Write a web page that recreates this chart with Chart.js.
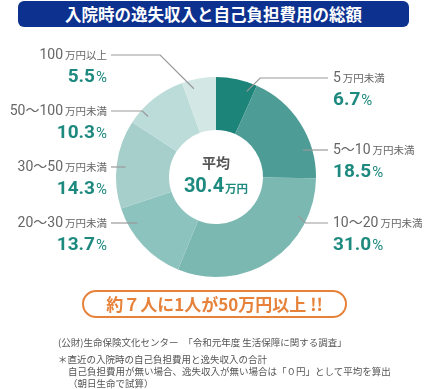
<!DOCTYPE html>
<html lang="ja">
<head>
<meta charset="utf-8">
<script src="https://cdn.jsdelivr.net/npm/chart.js@4.4.1/dist/chart.umd.min.js"></script>
<style>
  body { margin: 0; width: 432px; height: 389px; background: #fff; position: relative; overflow: hidden;
         font-family: "Noto Sans CJK JP", sans-serif; }
  #chart { position: absolute; left: 0; top: 0; }
  .title { position: absolute; left: 18px; top: 1px; width: 391px; height: 26px; background: #0d318f;
           border-radius: 6px; color: #fff; font-weight: bold; font-size: 16.5px; line-height: 26px; text-align: center; }
  .pill { position: absolute; left: 82px; top: 290px; width: 261px; height: 24px; border: 2px solid #e6823a;
          border-radius: 15px; color: #e6823a; font-weight: bold; font-size: 17px; line-height: 24px; text-align: center; }
  .note { position: absolute; left: 58px; top: 336px; font-size: 9.5px; line-height: 12px; color: #555; white-space: nowrap; }
  .note p { margin: 0; }
  .note .first { margin-bottom: 5px; }
  .note .ind { padding-left: 10px; }
</style>
</head>
<body>
<div class="title">入院時の逸失収入と自己負担費用の総額</div>
<canvas id="chart" width="432" height="389"></canvas>
<div class="pill">約７人に1人が50万円以上 !!</div>
<div class="note">
  <p class="first">(公財)生命保険文化センター　「令和元年度 生活保障に関する調査」</p>
  <p>＊直近の入院時の自己負担費用と逸失収入の合計</p>
  <p class="ind">自己負担費用が無い場合、逸失収入が無い場合は「０円」として平均を算出</p>
  <p class="ind">（朝日生命で試算）</p>
</div>
<script>
// データ（時計回り、上から）
const rangeLabels = ['5', '5〜10', '10〜20', '20〜30', '30〜50', '50〜100', '100'];
const rangeUnits = ['万円未満', '万円未満', '万円未満', '万円未満', '万円未満', '万円未満', '万円以上'];
const shares = [6.7, 18.5, 31.0, 13.7, 14.3, 10.3, 5.5];
const averageValue = 30.4;

// 色
const sliceColors = ['#1d8479', '#4d9c95', '#7bb8b2', '#8dc3be', '#a6cfcb', '#bcdcd9', '#d3e7e5'];
const teal = '#1e8a7f';
const grey = '#666';

// ラベル配置（側、線の高さ、スライス内の引き出し位置）
const labelSide = ['R', 'R', 'R', 'L', 'L', 'L', 'L'];
const labelY = [78, 150, 223, 223, 167, 111, 55];
const leaderAt = [0.82, 0.73, 0.22, 0.76, 0.48, 0.23, 0.29];

const numFont = '14px Roboto, "Noto Sans CJK JP"';
const unitFont = '10.5px "Noto Sans CJK JP"';
const pctFont = 'bold 19px Roboto';
const pctSignFont = '15px Roboto';

/**
 * 引き出し線とラベルを描く
 */
const labelPlugin = {
  id: 'sliceLabels',
  afterDraw(chart) {
    const ctx = chart.ctx;
    const arcs = chart.getDatasetMeta(0).data;
    ctx.save();
    ctx.textBaseline = 'middle';

    arcs.forEach(function(arc, i) {
      const left = labelSide[i] === 'L';
      const ly = labelY[i];
      const edgeX = left ? 111 : 328;

      // 引き出し線
      const a = arc.startAngle + leaderAt[i] * (arc.endAngle - arc.startAngle);
      const r = arc.outerRadius - 9;
      const ax = arc.x + r * Math.cos(a);
      const ay = arc.y + r * Math.sin(a);
      const dy = Math.abs(ay - ly);
      ctx.strokeStyle = '#9a9a9a';
      ctx.lineWidth = 1.2;
      ctx.beginPath();
      ctx.moveTo(edgeX, ly);
      if (dy < 3) {
        ctx.lineTo(ax, ly);
      } else {
        const elbowX = left ? ax - dy : ax + dy;
        ctx.lineTo(elbowX, ly);
        ctx.lineTo(ax, ay);
      }
      ctx.stroke();

      // 区分ラベル
      ctx.font = numFont;
      const wNum = ctx.measureText(rangeLabels[i]).width;
      ctx.font = unitFont;
      const wUnit = ctx.measureText(rangeUnits[i]).width;
      let x = left ? 107 - (wNum + 2 + wUnit) : 333;
      ctx.fillStyle = grey;
      ctx.textAlign = 'left';
      ctx.font = numFont;
      ctx.fillText(rangeLabels[i], x, ly);
      ctx.font = unitFont;
      ctx.fillText(rangeUnits[i], x + wNum + 2, ly + 0.5);

      // 割合
      const pct = shares[i].toFixed(1);
      const py = ly + 22;
      ctx.font = pctFont;
      const wPct = ctx.measureText(pct).width;
      ctx.font = pctSignFont;
      const wSign = ctx.measureText('%').width;
      x = left ? 107 - (wPct + 1 + wSign) : 333;
      ctx.fillStyle = teal;
      ctx.font = pctFont;
      ctx.fillText(pct, x, py);
      ctx.font = pctSignFont;
      ctx.fillText('%', x + wPct + 1, py + 1);
    });

    // 中央の平均
    const cx = arcs[0].x;
    const cy = arcs[0].y;
    ctx.textAlign = 'center';
    ctx.fillStyle = '#555';
    ctx.font = 'bold 14px "Noto Sans CJK JP"';
    ctx.fillText('平均', cx, cy - 14);

    const avg = averageValue.toFixed(1);
    ctx.font = 'bold 20px Roboto';
    const wAvg = ctx.measureText(avg).width;
    ctx.font = 'bold 11.5px "Noto Sans CJK JP"';
    const wYen = ctx.measureText('万円').width;
    const sx = cx - (wAvg + 1 + wYen) / 2;
    ctx.textAlign = 'left';
    ctx.fillStyle = teal;
    ctx.font = 'bold 20px Roboto';
    ctx.fillText(avg, sx, cy + 10);
    ctx.font = 'bold 11.5px "Noto Sans CJK JP"';
    ctx.fillText('万円', sx + wAvg + 1, cy + 12);

    ctx.restore();
  }
};

const chart = new Chart(document.getElementById('chart').getContext('2d'), {
  type: 'doughnut',
  data: {
    labels: rangeLabels.map(function(l, i) { return l + rangeUnits[i]; }),
    datasets: [{
      data: shares,
      backgroundColor: sliceColors,
      borderWidth: 0
    }]
  },
  options: {
    responsive: false,
    animation: false,
    cutout: '47%',
    layout: { padding: { left: 116, right: 116, top: 77, bottom: 112 } },
    plugins: {
      legend: { display: false },
      tooltip: { enabled: false }
    }
  },
  plugins: [labelPlugin]
});
</script>
</body>
</html>
